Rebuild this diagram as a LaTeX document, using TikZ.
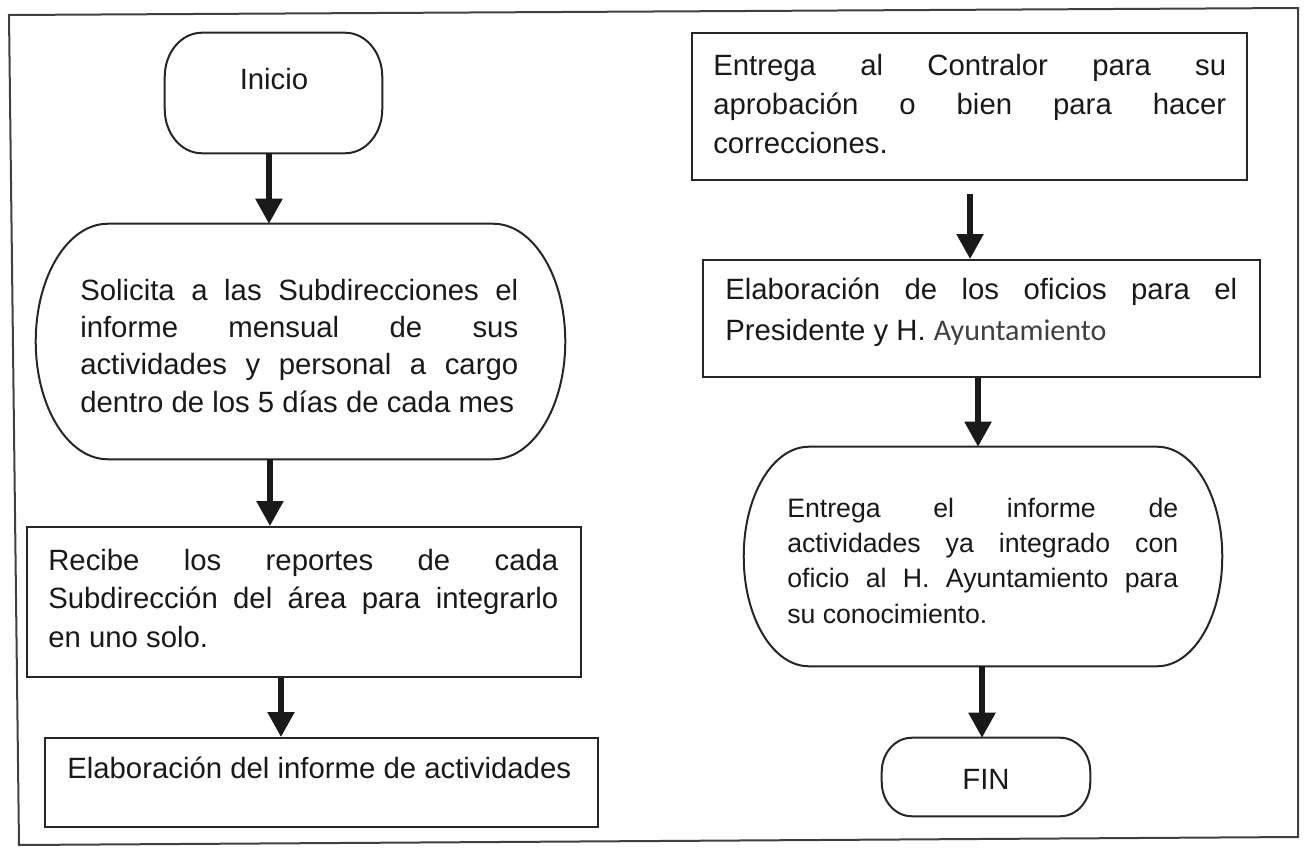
\documentclass[tikz,border=0pt]{standalone}
\usepackage{fontspec}
\setmainfont{Liberation Sans}
\newfontfamily\calibrifont{Carlito}
\usetikzlibrary{arrows.meta}
\hbadness=10000
\tikzset{
  boxline/.style={line width=1.5pt, draw=black!85},
  rectbox/.style={boxline, rectangle, inner sep=0pt},
  capbox/.style={rectangle, inner sep=0pt},
  txt/.style={inner sep=0pt, anchor=base west, align=justify, text=black!90},
  bigtxt/.style={txt, font=\fontsize{22pt}{28.1pt}\selectfont},
  arr/.style={line width=4pt, draw=black!90, -{Triangle[width=19.5pt,length=18.75pt]}},
  frameline/.style={line width=1.5pt, draw=black!75}
}
\newcommand\capsule[3]{%
  \draw[boxline] ([xshift=#2]#1.north west) -- ([xshift=-#2]#1.north east)
    arc[start angle=90,end angle=0,x radius=#2,y radius=#3]
    -- ([yshift=#3]#1.south east)
    arc[start angle=0,end angle=-90,x radius=#2,y radius=#3]
    -- ([xshift=#2]#1.south west)
    arc[start angle=270,end angle=180,x radius=#2,y radius=#3]
    -- ([yshift=-#3]#1.north west)
    arc[start angle=180,end angle=90,x radius=#2,y radius=#3] -- cycle;}
\begin{document}
\begin{tikzpicture}[x=0.75pt,y=0.75pt]
\useasboundingbox[fill=white] (0,0) rectangle (1304,-853);
% frame
\coordinate (f1) at (9,-15);
\coordinate (f2) at (1298,-8);
\coordinate (f3) at (1298,-837);
\coordinate (f4) at (19,-845);
\draw[frameline] (f1) -- (f2) -- (f3) -- (f4) -- cycle;

% left column
\node[capbox, minimum width=162.75pt, minimum height=90pt] (inicio) at (273.5,-93) {};
\capsule{inicio}{27.75pt}{33pt}
\node[inner sep=0pt, anchor=base, font=\fontsize{22pt}{26pt}\selectfont, text=black!90] (tinicio) at (274,-89) {Inicio};

\node[capbox, minimum width=396.75pt, minimum height=176.25pt] (solicita) at (300.5,-341.5) {};
\capsule{solicita}{54pt}{88.1pt}
\node[bigtxt, text width=328.5pt] (tsol) at (80,-300)
  {Solicita a las Subdirecciones el\linebreak informe mensual de sus\linebreak actividades y personal a cargo\linebreak dentro de los 5 días de cada mes};

\node[rectbox, minimum width=415.5pt, minimum height=112.5pt] (recibe) at (304,-602) {};
\node[txt, font=\fontsize{22pt}{28.9pt}\selectfont, text width=382.5pt] (trec) at (48,-570)
  {Recibe los reportes de cada\linebreak Subdirección del área para integrarlo\linebreak en uno solo.};

\node[rectbox, minimum width=414.75pt, minimum height=66.75pt] (elab) at (321.5,-782.5) {};
\node[txt, font=\fontsize{22pt}{26pt}\selectfont, align=left] (telab) at (67,-778)
  {Elaboración del informe de actividades};

% right column
\node[rectbox, minimum width=416.25pt, minimum height=110.25pt] (entrega) at (969.5,-106.5) {};
\node[txt, font=\fontsize{22pt}{29.25pt}\selectfont, text width=384.75pt] (tent) at (713,-75)
  {Entrega al Contralor para su\linebreak aprobación o bien para hacer\linebreak correcciones.};

\node[rectbox, minimum width=417.75pt, minimum height=87.75pt] (oficios) at (981.5,-318.5) {};
\node[txt, font=\fontsize{22pt}{30.75pt}\selectfont, text width=384pt] (tofi) at (725,-299)
  {Elaboración de los oficios para el\linebreak Presidente y H. {\calibrifont\color{black!75}\fontsize{22.5pt}{30.75pt}\selectfont Ayuntamiento}};

\node[capbox, minimum width=358.5pt, minimum height=164.25pt] (entregael) at (983,-556.5) {};
\capsule{entregael}{48.75pt}{82pt}
\node[txt, font=\fontsize{20pt}{26.5pt}\selectfont, text width=293.25pt] (tentel) at (787,-517)
  {Entrega el informe de\linebreak actividades ya integrado con\linebreak oficio al H. Ayuntamiento para\linebreak su conocimiento.};

\node[capbox, minimum width=156pt, minimum height=58.5pt] (fin) at (986,-777) {};
\capsule{fin}{22.5pt}{25.5pt}
\node[inner sep=0pt, anchor=base, font=\fontsize{22pt}{26pt}\selectfont, text=black!90] (tfin) at (986,-789) {FIN};

% connectors
\draw[arr] ([xshift=-3.4pt]inicio.south) -- ([xshift=-3.4pt]inicio.south |- solicita.north);
\draw[arr] ([xshift=-22.9pt]solicita.south) -- ([xshift=-22.9pt]solicita.south |- recibe.north);
\draw[arr] ([xshift=-17.25pt]recibe.south) -- ([xshift=-17.25pt]recibe.south |- elab.north);
\draw[arr] ([xshift=0.4pt,yshift=-9.75pt]entrega.south) -- ([xshift=0.4pt]entrega.south |- oficios.north);
\draw[arr] ([xshift=-2.6pt]oficios.south) -- ([xshift=-2.6pt]oficios.south |- entregael.north);
\draw[arr] ([xshift=-0.75pt]entregael.south) -- ([xshift=-0.75pt]entregael.south |- fin.north);
\end{tikzpicture}
\end{document}
